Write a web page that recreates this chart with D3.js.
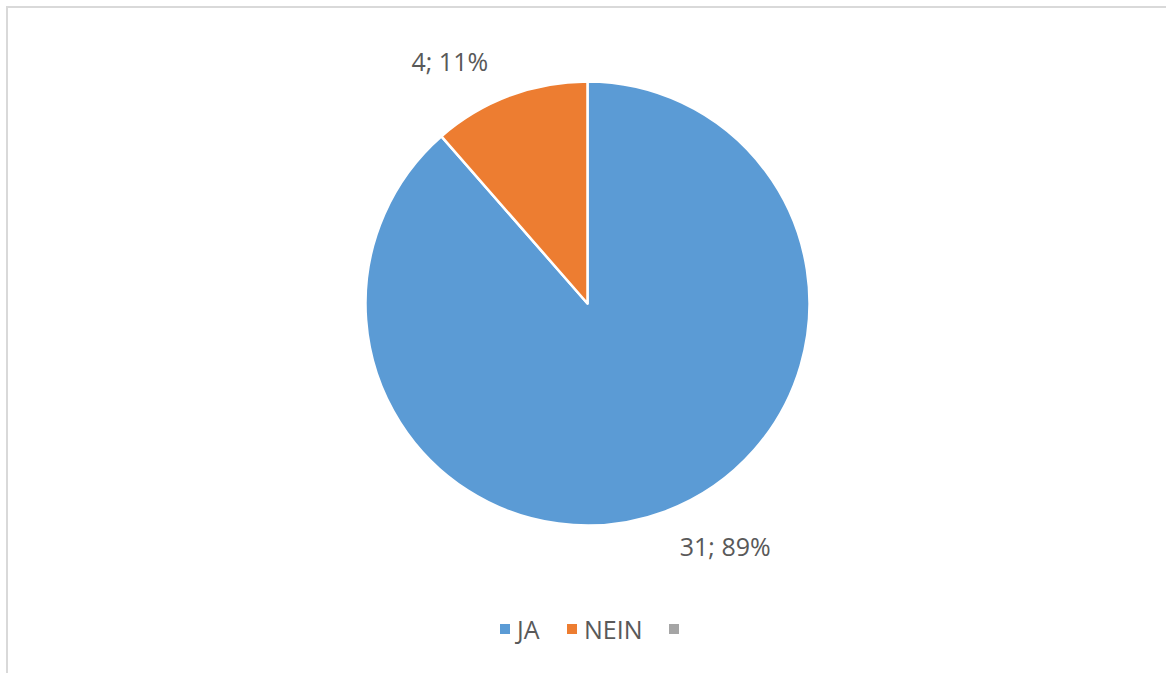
<!DOCTYPE html>
<html>
<head>
<meta charset="utf-8">
<script src="https://cdn.jsdelivr.net/npm/d3@7"></script>
<style>
  html, body { margin: 0; padding: 0; background: #ffffff; }
  svg { display: block; }
</style>
</head>
<body>
<svg id="chart" width="1166" height="673"></svg>
<script>
// Survey answers
const categories = ["JA", "NEIN", ""];
const values = [31, 4, 0];
const colors = ["#5B9BD5", "#ED7D31", "#A5A5A5"];

const W = 1166, H = 673;
const svg = d3.select("#chart");

// Chart area frame
svg.append("rect")
  .attr("x", 7).attr("y", 7)
  .attr("width", W + 20).attr("height", H + 20)
  .attr("fill", "#fff")
  .attr("stroke", "#d9d9d9")
  .attr("stroke-width", 2);

const cx = 587.5, cy = 303.5, r = 222;
const total = d3.sum(values);

const data = categories.map((c, i) => ({ cat: c, value: values[i], color: colors[i] }));

const pie = d3.pie().sort(null).value(d => d.value);
const arcs = pie(data);
const arc = d3.arc().innerRadius(0).outerRadius(r);

const g = svg.append("g").attr("transform", `translate(${cx},${cy})`);

g.selectAll("path.slice")
  .data(arcs.filter(a => a.data.value > 0))
  .join("path")
  .attr("class", "slice")
  .attr("d", arc)
  .attr("fill", d => d.data.color)
  .attr("stroke", "#fff")
  .attr("stroke-width", 2.5)
  .attr("stroke-linejoin", "round");

// Data labels outside the pie: "value; percent"
const labelR = r + 57;
const shift = -9 * Math.PI / 180;
g.selectAll("text.lbl")
  .data(arcs.filter(a => a.data.value > 0))
  .join("text")
  .attr("class", "lbl")
  .attr("x", d => labelR * Math.sin((d.startAngle + d.endAngle) / 2 + shift))
  .attr("y", d => -labelR * Math.cos((d.startAngle + d.endAngle) / 2 + shift))
  .attr("text-anchor", "middle")
  .attr("dominant-baseline", "central")
  .attr("font-family", "'Open Sans', 'Noto Sans', sans-serif")
  .attr("font-size", 25)
  .attr("fill", "#595959")
  .text(d => `${d.data.value}; ${Math.round(d.data.value / total * 100)}%`);

// Legend
const legend = svg.append("g").attr("transform", "translate(0,629)");
const legendX = [500, 567, 669];
const items = legend.selectAll("g.item")
  .data(data)
  .join("g")
  .attr("class", "item")
  .attr("transform", (d, i) => `translate(${legendX[i]},0)`);
items.append("rect")
  .attr("x", 0).attr("y", -5)
  .attr("width", 10).attr("height", 10)
  .attr("fill", d => d.color);
items.append("text")
  .attr("x", 17).attr("y", 0)
  .attr("dominant-baseline", "central")
  .attr("font-family", "'Open Sans', 'Noto Sans', sans-serif")
  .attr("font-size", 25)
  .attr("fill", "#595959")
  .text(d => d.cat);
</script>
</body>
</html>
